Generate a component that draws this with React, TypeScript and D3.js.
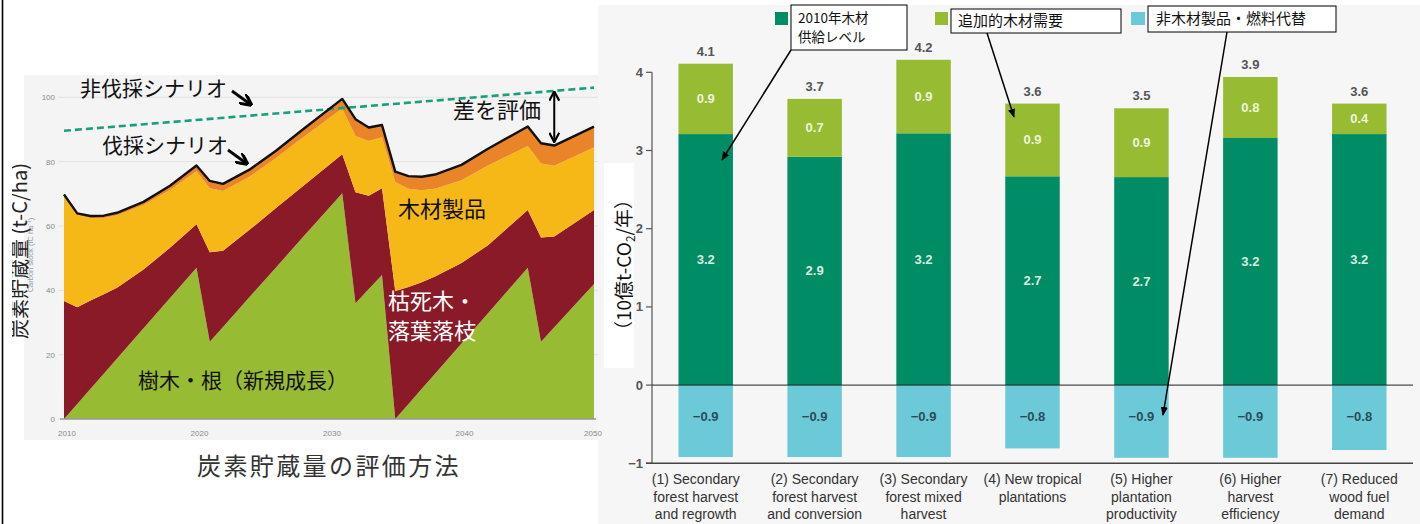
import React from 'react';
import * as d3 from 'd3';

// ---------- Left chart data (carbon stock, tC/ha) ----------
const years = [2010, 2011, 2012, 2013, 2014, 2016, 2018, 2020, 2021, 2022, 2024, 2026, 2028, 2031, 2032, 2033, 2034, 2035, 2036, 2037, 2038, 2040, 2042, 2045, 2046, 2047, 2050];
const treesRoots = [0, 4.7, 9.4, 14.1, 18.8, 28.2, 37.6, 47, 24, 28.6, 37.9, 47.1, 56.4, 70.2, 36, 40.4, 44.8, 0, 4.7, 9.4, 14.1, 23.5, 32.9, 47, 24, 28.5, 42];
const deadWood = [36.7, 30.0, 27.4, 24.7, 22.0, 18.3, 15.6, 13.5, 27.8, 23.7, 20.9, 18.5, 15.9, 12.1, 34.5, 29.0, 26.9, 39.8, 36.3, 33.1, 30.2, 25.0, 21.1, 18.0, 32.4, 28.2, 23.0];
const woodProducts = [32.8, 28.7, 25.7, 23.7, 22.5, 20.0, 18.0, 16.5, 19.9, 18.6, 16.5, 15.5, 15.1, 14.2, 17.5, 17.0, 15.9, 33.9, 30.6, 28.6, 27.3, 25.7, 24.8, 19.9, 23.0, 22.0, 19.4];
const landfill = [0.3, 0.5, 0.6, 0.7, 0.8, 1.0, 1.3, 1.8, 2.3, 2.2, 2.2, 2.3, 2.5, 3.0, 5.2, 4.2, 3.8, 3.2, 3.9, 4.2, 4.4, 4.8, 5.2, 6.0, 6.3, 6.3, 6.5];
const noHarvestYears = [2010, 2050];
const noHarvestValues = [89.6, 103.0];
const leftYTicks = [0, 20, 40, 60, 80, 100];
const leftXTicks = [2010, 2020, 2030, 2040, 2050];
const layerKeys = ['trees', 'dead', 'products', 'landfill'];
const layerColors = ['#97bb33', '#8a1a27', '#f6b817', '#ea8429'];

// ---------- Right chart data (billion t-CO2 / yr) ----------
const scenarioLabels = [
  ['(1) Secondary', 'forest harvest', 'and regrowth'],
  ['(2) Secondary', 'forest harvest', 'and conversion'],
  ['(3) Secondary', 'forest mixed', 'harvest'],
  ['(4) New tropical', 'plantations'],
  ['(5) Higher', 'plantation', 'productivity'],
  ['(6) Higher', 'harvest', 'efficiency'],
  ['(7) Reduced', 'wood fuel', 'demand'],
];
const baseSupply = [3.21, 2.92, 3.22, 2.67, 2.66, 3.16, 3.21];
const additionalDemand = [0.9, 0.74, 0.94, 0.93, 0.88, 0.78, 0.39];
const substitution = [-0.92, -0.92, -0.92, -0.81, -0.93, -0.93, -0.83];
const rightYTicks = [-1, 0, 1, 2, 3, 4];
const legendNames = ['2010年木材', '追加的木材需要', '非木材製品・燃料代替'];
const barColors = ['#008c64', '#97bb33', '#6ccad8'];

const JP = '"Noto Sans CJK JP", "Noto Sans", sans-serif';
const SANS = '"Liberation Sans", Arial, sans-serif';

export default function App() {
  // left scales
  const x = d3.scaleLinear().domain([2010, 2050]).range([64, 594]);
  const y = d3.scaleLinear().domain([0, 100]).range([419, 97.3]);
  const rows = years.map((yr, i) => ({ year: yr, trees: treesRoots[i], dead: deadWood[i], products: woodProducts[i], landfill: landfill[i] }));
  const series = d3.stack<any>().keys(layerKeys)(rows);
  const area = d3.area<any>().x((d) => x(d.data.year)).y0((d) => y(d[0])).y1((d) => y(d[1]));
  const topLine = d3.line<any>().x((d) => x(d.data.year)).y((d) => y(d[1]));
  const dashLine = d3.line<number>().x((d, i) => x(noHarvestYears[i])).y((d) => y(d));
  const fmt = d3.format('.1f');

  // double arrow location (2047)
  const gapYear = 2047;
  const gi = years.indexOf(gapYear);
  const totalAtGap = series[series.length - 1][gi][1];
  const noHarvestAtGap = d3.scaleLinear().domain(noHarvestYears).range(noHarvestValues)(gapYear);

  // right scales
  const yr = d3.scaleLinear().domain([-1, 4]).range([463.3, 72.3]);
  const xb = d3.scaleBand<number>().domain(d3.range(7)).range([652, 1413]).paddingInner(0.5).paddingOuter(0.243);
  const bw = xb.bandwidth();

  return (
    <svg width={1420} height={524} style={{ position: 'absolute', left: 0, top: 0, background: '#fff' }}>
      <defs>
        <marker id="ahS" viewBox="0 0 10 10" refX="9" refY="5" markerWidth="9" markerHeight="9" markerUnits="userSpaceOnUse" orient="auto">
          <path d="M0,1 L10,5 L0,9 Z" fill="#000" />
        </marker>
        <marker id="ahB" viewBox="0 0 10 10" refX="8" refY="5" markerWidth="12" markerHeight="12" markerUnits="userSpaceOnUse" orient="auto">
          <path d="M0,0 L10,5 L0,10" fill="none" stroke="#000" strokeWidth="2.6" />
        </marker>
        <marker id="ahD" viewBox="0 0 10 10" refX="9" refY="5" markerWidth="11" markerHeight="11" markerUnits="userSpaceOnUse" orient="auto-start-reverse">
          <path d="M1,0.5 L9.5,5 L1,9.5" fill="none" stroke="#000" strokeWidth="2" />
        </marker>
        <clipPath id="ylabClip">
          <rect x={12} y={100} width={40} height={300} />
        </clipPath>
      </defs>

      <rect x={0} y={0} width={1420} height={524} fill="#fff" />
      <line x1={2.5} y1={0} x2={2.5} y2={524} stroke="#000" strokeWidth={1.6} />

      {/* ===== RIGHT PANEL BACKGROUND ===== */}
      <rect x={598} y={5} width={822} height={519} fill="#f6f6f6" />

      {/* ===== LEFT PANEL ===== */}
      <rect x={24} y={75} width={574} height={365} fill="#f4f4f4" />
      {leftYTicks.map((t) => (
        <g key={'ly' + t}>
          <line x1={58} x2={598} y1={y(t)} y2={y(t)} stroke="#e2e2e2" strokeWidth={1} />
          <text x={55} y={y(t) + 3} textAnchor="end" fontFamily={SANS} fontSize={8} fill="#8a8a8a">{t}</text>
        </g>
      ))}
      {series.map((s, i) => (
        <path key={'area' + i} d={area(s) || ''} fill={layerColors[i]} />
      ))}
      <line x1={60} x2={596} y1={y(0)} y2={y(0)} stroke="#9a9a9a" strokeWidth={1.5} />
      {leftXTicks.map((t) => (
        <text key={'lx' + t} x={x(t) + (t === 2050 ? -1 : 3)} y={436} textAnchor="middle" fontFamily={SANS} fontSize={8} fill="#8a8a8a">{t}</text>
      ))}
      <path d={dashLine(noHarvestValues) || ''} fill="none" stroke="#16a07c" strokeWidth={2.6} strokeDasharray="7,4" />
      <path d={topLine(series[series.length - 1]) || ''} fill="none" stroke="#111" strokeWidth={2.4} strokeLinejoin="round" />

      <g clipPath="url(#ylabClip)">
        <text transform="translate(27,251) rotate(-90)" textAnchor="middle" fontFamily={JP} fontSize={20} fill="#222">炭素貯蔵量 (t-C/ha)</text>
      </g>
      <text transform="translate(33,255) rotate(-90)" textAnchor="middle" fontFamily={SANS} fontSize={7.5} fill="#9a9a9a">Carbon stock (tC ha⁻¹)</text>

      <text x={80} y={96} fontFamily={JP} fontSize={21} fill="#111">非伐採シナリオ</text>
      <line x1={232} y1={91} x2={250} y2={104} stroke="#000" strokeWidth={2.8} markerEnd="url(#ahB)" />
      <text x={102} y={153} fontFamily={JP} fontSize={21} fill="#111">伐採シナリオ</text>
      <line x1={228} y1={150} x2={246} y2={163} stroke="#000" strokeWidth={2.8} markerEnd="url(#ahB)" />
      <text x={453} y={118} fontFamily={JP} fontSize={22} fill="#111">差を評価</text>
      <line x1={x(gapYear)} x2={x(gapYear)} y1={y(noHarvestAtGap) + 1} y2={y(totalAtGap) - 4} stroke="#000" strokeWidth={2} markerStart="url(#ahD)" markerEnd="url(#ahD)" />
      <text x={398} y={217} fontFamily={JP} fontSize={22} fill="#111">木材製品</text>
      <text x={388} y={309} fontFamily={JP} fontSize={22} fill="#fff">枯死木・</text>
      <text x={388} y={339} fontFamily={JP} fontSize={22} fill="#fff">落葉落枝</text>
      <text x={138} y={388} fontFamily={JP} fontSize={21} fill="#111">樹木・根（新規成長）</text>

      <text x={197} y={475} fontFamily={JP} fontSize={24} letterSpacing={2.4} fill="#333">炭素貯蔵量の評価方法</text>

      {/* ===== RIGHT PANEL ===== */}
      <rect x={604} y={163} width={30} height={205} fill="#fff" />
      <text transform="translate(631,265) rotate(-90)" textAnchor="middle" fontFamily={JP} fontSize={19} fill="#111">
        （10億t-CO<tspan fontSize={12} dy={4}>2</tspan><tspan dy={-4}>/年）</tspan>
      </text>

      {/* axis */}
      <line x1={652} x2={652} y1={yr(4)} y2={yr(-1)} stroke="#555" strokeWidth={1.2} />
      {rightYTicks.map((t) => (
        <g key={'ry' + t}>
          <line x1={646} x2={652} y1={yr(t)} y2={yr(t)} stroke="#555" strokeWidth={1.2} />
          <text x={643} y={yr(t) + 4.5} textAnchor="end" fontFamily={SANS} fontWeight="bold" fontSize={13} fill="#555">{t < 0 ? '−' + Math.abs(t) : t}</text>
        </g>
      ))}

      {/* bars */}
      {baseSupply.map((v, i) => {
        const x0 = xb(i) as number;
        const add = additionalDemand[i];
        const neg = substitution[i];
        const total = v + add;
        const cx = x0 + bw / 2;
        return (
          <g key={'bar' + i}>
            <rect x={x0} y={yr(v)} width={bw} height={yr(0) - yr(v)} fill={barColors[0]} />
            <rect x={x0} y={yr(total)} width={bw} height={yr(v) - yr(total)} fill={barColors[1]} />
            <rect x={x0} y={yr(0)} width={bw} height={yr(neg) - yr(0)} fill={barColors[2]} />
            <text x={cx} y={yr(v / 2) + 4.5} textAnchor="middle" fontFamily={SANS} fontWeight="bold" fontSize={13} fill="#dcebe2">{fmt(v)}</text>
            <text x={cx} y={yr(v + add / 2) + 4.5} textAnchor="middle" fontFamily={SANS} fontWeight="bold" fontSize={13} fill="#eef4dc">{fmt(add)}</text>
            <text x={cx} y={yr(-0.4) + 4.5} textAnchor="middle" fontFamily={SANS} fontWeight="bold" fontSize={13} fill="#2c4b5a">{fmt(neg)}</text>
            <text x={cx} y={yr(total) - 8} textAnchor="middle" fontFamily={SANS} fontWeight="bold" fontSize={13} fill="#555">{fmt(total)}</text>
            {scenarioLabels[i].map((ln, k) => (
              <text key={k} x={cx - (i === 0 ? 10 : 0)} y={484 + k * 17.7} textAnchor="middle" fontFamily={SANS} fontSize={14} fill="#333">{ln}</text>
            ))}
          </g>
        );
      })}
      <line x1={652} x2={1413} y1={yr(0)} y2={yr(0)} stroke="#222" strokeWidth={1} />
      <line x1={646} x2={1413} y1={yr(-1)} y2={yr(-1)} stroke="#444" strokeWidth={1.4} />

      {/* legend swatches */}
      <rect x={775} y={12} width={13} height={13} fill={barColors[0]} />
      <rect x={935} y={12} width={13} height={13} fill={barColors[1]} />
      <rect x={1131} y={12} width={14} height={13} fill={barColors[2]} />

      {/* callouts */}
      <line x1={791} y1={50} x2={722} y2={160} stroke="#000" strokeWidth={1.5} markerEnd="url(#ahS)" />
      <rect x={791} y={5} width={116} height={45} fill="#fff" stroke="#000" strokeWidth={1} />
      <text x={798} y={23} fontFamily={JP} fontSize={13.5} fill="#111">{legendNames[0]}</text>
      <text x={798} y={42} fontFamily={JP} fontSize={13.5} fill="#111">供給レベル</text>

      <line x1={987} y1={33} x2={1014} y2={117} stroke="#000" strokeWidth={1.5} markerEnd="url(#ahS)" />
      <rect x={951} y={9} width={170} height={24} fill="#fff" stroke="#000" strokeWidth={1} />
      <text x={958} y={26} fontFamily={JP} fontSize={15} fill="#111">{legendNames[1]}</text>

      <line x1={1227} y1={32} x2={1163} y2={415} stroke="#000" strokeWidth={1.5} markerEnd="url(#ahS)" />
      <rect x={1148} y={6} width={188} height={26} fill="#fff" stroke="#000" strokeWidth={1} />
      <text x={1156} y={24} fontFamily={JP} fontSize={15} fill="#111">{legendNames[2]}</text>
    </svg>
  );
}
